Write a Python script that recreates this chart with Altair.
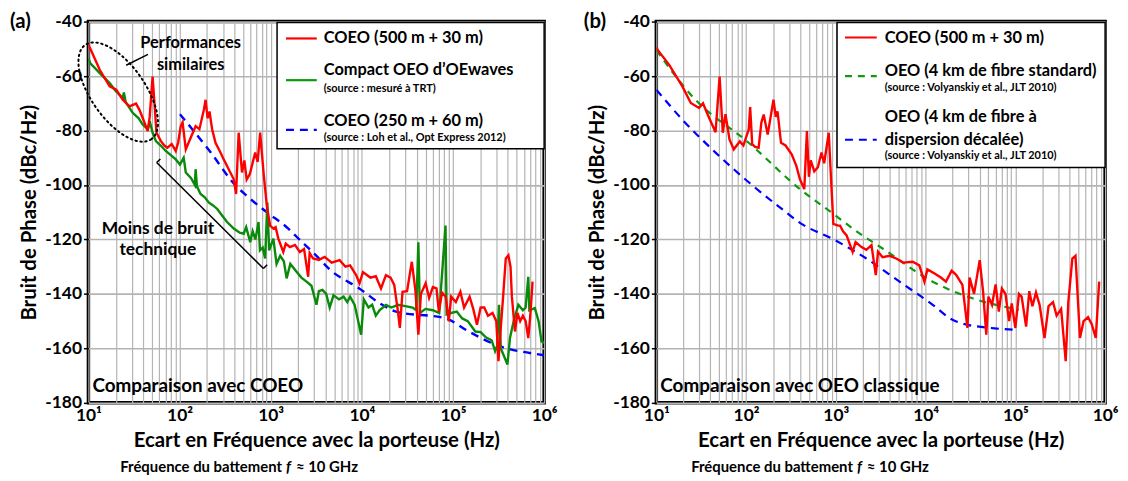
import math
import altair as alt
import pandas as pd

FONT = "Lato"
GRID = "#b4b4b4"

# ---------------- data (frequency Hz, phase noise dBc/Hz) ----------------
a_red = [(10, -48.5), (10.5, -50), (13.3, -57.7), (17.1, -63.8), (20.2, -65), (23.8, -68.7), (28.2, -71.1),
         (33.3, -70.1), (36.4, -72.5), (39.4, -75.4), (44.7, -80.2), (47.0, -75), (50.6, -60.2), (53.3, -71),
         (55.8, -80.8), (62.4, -83.9), (68.1, -85.5), (73.6, -86.3), (82.0, -85), (90.8, -87.5), (96.4, -84.5),
         (103, -78.4), (108, -77), (117, -86.9), (131, -83), (150, -78.4), (165, -79.5), (185, -72.3),
         (193, -68.7), (203, -75.5), (213, -73), (228, -79.6), (248, -84.5), (281, -88.1), (305, -90.6),
         (346, -94.2), (393, -97.9), (417, -103.3), (445, -80.8), (484, -95.4), (514, -91), (545, -98),
         (590, -96), (676, -88.1), (719, -91.5), (766, -80.8), (834, -95.4), (906, -107.6), (985, -114.9),
         (1069, -116), (1132, -115.5), (1213, -119.7), (1374, -124.6), (1462, -121.5), (1626, -122.8),
         (1845, -122), (2089, -124.6), (2323, -123.5), (2576, -133.7), (2673, -125), (2917, -127),
         (3373, -127.5), (3908, -126.4), (4667, -128.5), (5702, -127.6), (6607, -130), (7430, -129.5),
         (8650, -133.1), (9419, -136.1), (10280, -132), (12390, -134), (14220, -133.5), (16220, -138),
         (18370, -133.1), (20650, -134), (22650, -136.7), (24600, -145.2), (26120, -152.5), (27930, -139.2),
         (31330, -139), (35320, -128.2), (38640, -138.5), (41690, -155), (44460, -140), (50120, -136.1),
         (54700, -141.5), (60120, -137.5), (65920, -138), (69980, -146.5), (75860, -139.5), (83180, -141),
         (89950, -150.1), (95500, -141), (107400, -143), (120500, -139.2), (132400, -145), (152100, -141),
         (166700, -145.5), (183200, -151.3), (200900, -145), (220300, -145), (242100, -148), (271600, -147),
         (298500, -150), (315500, -164.7), (335000, -152), (354800, -141), (379300, -127), (405500, -125.8),
         (427600, -130), (442600, -141), (478600, -153.8), (509300, -147), (545800, -150), (584800, -148),
         (626600, -150), (669900, -156.2), (704700, -148), (746400, -135.5)]

a_green = [(10, -53.5), (10.5, -55.3), (13.4, -59), (17.1, -62.6), (19.9, -65.5), (23.8, -68.1), (24.5, -66),
           (25.6, -69.5), (30.6, -73.5), (35.6, -75.5), (39.4, -77.8), (44.9, -79.5), (47.0, -76.5),
           (50.6, -80.8), (55.0, -83.9), (62.1, -85.5), (70.6, -87.5), (80.2, -89), (90.8, -90.6), (101, -92.5),
           (111, -90), (117, -95.4), (134, -97.5), (147, -100), (150, -94.2), (155, -100.5), (170, -103.3),
           (189, -104.5), (209, -106.4), (233, -107.5), (259, -108.8), (293, -111.2), (330, -113.5),
           (393, -116), (457, -117.5), (505, -117.9), (538, -115.5), (596, -121), (634, -117), (679, -120),
           (735, -113.6), (762, -124), (817, -123), (869, -127), (918, -106.4), (962, -124), (1069, -119.7),
           (1159, -129), (1271, -126), (1393, -128), (1496, -134.3), (1641, -129), (1923, -131.9),
           (2168, -134), (2472, -135.5), (2799, -137), (3177, -144), (3373, -139), (3698, -138.5),
           (4064, -140), (4436, -145), (4887, -140.5), (5623, -142), (6310, -141), (6918, -143), (7430, -141),
           (8337, -144), (9817, -155), (10520, -142), (11830, -145), (12970, -144), (14220, -148),
           (15630, -146), (18370, -144), (21130, -145), (24830, -144), (29920, -144.5), (36060, -145),
           (39540, -146), (41690, -121), (43350, -147), (49890, -145.5), (60120, -146), (70630, -147),
           (82790, -114.9), (85110, -147.5), (95500, -147), (109900, -146.5), (126200, -149), (145200, -150),
           (175800, -153.8), (200900, -154), (231200, -156), (265500, -157), (289700, -161), (305500, -159),
           (319900, -144), (335000, -160), (395400, -165.9), (422700, -156), (463400, -150), (521200, -144),
           (584800, -146), (626600, -145), (669900, -133.7), (688700, -146), (790700, -145.2), (869000, -150),
           (935400, -157.4), (1000000, -158)]

a_blue = [(101, -74), (219, -88), (407, -100), (548, -104), (906, -110), (1560, -116), (1923, -119),
          (3177, -126), (4436, -131), (9376, -138), (16750, -144), (23710, -146.5), (83180, -149),
          (148600, -153.8), (291100, -158.6), (869000, -162.2), (1000000, -162.5)]

b_red = [(10, -49.5), (10.4, -50.5), (13.9, -55.9), (19.5, -63.8), (24.2, -69.9), (29.9, -71.7), (33.1, -70),
         (37.2, -74), (45.7, -80.6), (50.7, -60.2), (55.0, -80.8), (58.9, -74), (65.3, -83.3), (72.9, -86.9),
         (85.1, -84), (93.3, -85.5), (107, -79.6), (111, -71.4), (117, -85), (126, -86), (138, -86.3),
         (148, -77), (157, -74.1), (174, -81.5), (202, -68.7), (214, -75), (224, -73), (245, -84.5),
         (275, -85.5), (322, -88.7), (363, -93), (398, -97.9), (445, -101.5), (476, -80.2), (501, -97),
         (525, -91), (575, -95), (631, -93.5), (692, -88.1), (741, -92), (834, -80.8), (891, -100),
         (938, -114.3), (1057, -114.9), (1114, -114.9), (1202, -117), (1318, -118.5), (1538, -124.6),
         (1660, -121), (1932, -122.8), (2188, -123.8), (2495, -122.1), (2786, -133.1), (2951, -124.5),
         (3311, -126.5), (3981, -126), (4710, -127), (5623, -128.5), (7194, -128.2), (8511, -129.5),
         (9705, -135.5), (10470, -131), (12590, -132.5), (14790, -134), (16870, -135.5), (19500, -131.5),
         (21880, -133), (25700, -136.7), (29240, -152.5), (30900, -134), (34670, -140), (40090, -127.6),
         (43650, -139), (47430, -155), (50120, -141), (54950, -144), (60260, -136.5), (65460, -146.5),
         (70790, -138), (77620, -140), (85110, -150), (91200, -143.5), (100000, -152.5), (109600, -140),
         (117500, -141), (131800, -152), (142900, -139), (154900, -144.5), (169800, -139.5), (186200, -144),
         (211300, -156.2), (234400, -144.5), (263000, -143), (288400, -148), (323600, -145.5),
         (363900, -164.7), (389000, -143), (431500, -127), (467700, -126), (524800, -156.2), (575400, -150),
         (645700, -148.5), (707900, -151), (787000, -156.2), (859000, -135.5)]

b_green = [(10, -50.5), (25.2, -67.5), (107, -84.5), (415, -102), (938, -110.6), (1618, -116.5),
           (3350, -123.4), (11970, -135.5), (33190, -141.6), (109100, -145.8)]

b_blue = [(10, -65), (19.5, -76), (45.7, -88.1), (107, -99), (250, -108.8), (402, -114), (933, -119.9),
          (2188, -127), (5129, -135.5), (12020, -144), (19950, -149.5), (28050, -151.2), (46770, -152.3),
          (100000, -153.2)]

x_tick_powers = [10, 100, 1000, 10000, 100000, 1000000]
x_tick_labels = ["10¹", "10²", "10³", "10⁴", "10⁵", "10⁶"]
y_ticks = [-180, -160, -140, -120, -100, -80, -60, -40]

x_grid_values = [m * p for p in x_tick_powers[:-1] for m in range(1, 10)] + [1000000]
label_expr = " : ".join(
    f"datum.value == {v} ? '{t}'" for v, t in zip(x_tick_powers, x_tick_labels)
) + " : ''"

H = 384
ONE = alt.Data(values=[{"k": 0}])


def axes_x():
    return alt.X(
        "f:Q",
        scale=alt.Scale(type="log", domain=[10, 1000000], nice=False),
        axis=alt.Axis(
            values=x_grid_values, labelExpr=label_expr, grid=True, gridColor=GRID, gridWidth=1.2,
            ticks=False, domain=False, labelOverlap=False, labelFlush=False, labelBound=False,
            labelFont=FONT, labelFontSize=17.5, labelFontWeight="bold", labelColor="black", labelPadding=4,
            title="Ecart en Fréquence avec la porteuse (Hz)", titleFont=FONT, titleFontSize=20.5,
            titleFontWeight="bold", titleColor="black", titlePadding=6,
        ),
    )


def axes_y():
    return alt.Y(
        "db:Q",
        scale=alt.Scale(domain=[-180, -40], nice=False),
        axis=alt.Axis(
            values=y_ticks, labelExpr="toString(datum.value)", grid=True, gridColor=GRID, gridWidth=1.6,
            tickSize=5, tickColor="black", tickWidth=1.5, domain=False,
            labelFont=FONT, labelFontSize=17.5, labelFontWeight="bold", labelColor="black", labelPadding=2,
            title="Bruit de Phase (dBc/Hz)", titleFont=FONT, titleFontSize=20.5, titleFontWeight="bold",
            titleColor="black", titlePadding=5,
        ),
    )


def line(data, color, dash=None, width=2.4, interp="linear"):
    df = pd.DataFrame(data, columns=["f", "db"])
    kw = dict(color=color, strokeWidth=width, clip=True, interpolate=interp)
    if dash:
        kw["strokeDash"] = dash
    return alt.Chart(df).mark_line(**kw).encode(x=axes_x(), y=axes_y())


def txt(s, x, y, size, align="left", style="normal"):
    return alt.Chart(ONE).mark_text(
        text=s, align=align, baseline="middle", font=FONT, fontSize=size, fontWeight="bold",
        fontStyle=style, color="black",
    ).encode(x=alt.value(x), y=alt.value(y))


def seg(x1, y1, x2, y2, color="black", width=1.5, dash=None):
    kw = dict(color=color, strokeWidth=width)
    if dash:
        kw["strokeDash"] = dash
    return alt.Chart(ONE).mark_rule(**kw).encode(
        x=alt.value(x1), y=alt.value(y1), x2=alt.value(x2), y2=alt.value(y2)
    )


def box(x1, y1, x2, y2):
    return alt.Chart(ONE).mark_rect(fill="white", stroke="black", strokeWidth=1.5).encode(
        x=alt.value(x1), y=alt.value(y1), x2=alt.value(x2), y2=alt.value(y2)
    )


def subtitle(x0):
    return [
        txt("Fréquence du battement", x0 + 145, 449, 15, align="right"),
        txt("f", x0 + 149, 449, 15, style="italic"),
        txt("≈ 10 GHz", x0 + 159, 449, 15),
    ]


# ellipse outline (annotation shape)
th = math.radians(55)
pts = []
for i in range(72):
    t = 2 * math.pi * i / 72
    ex, ey = math.cos(t), 0.47 * math.sin(t)
    pts.append(f"{ex * math.cos(th) - ey * math.sin(th):.4f},{ex * math.sin(th) + ey * math.cos(th):.4f}")
ellipse_path = "M" + " L".join(pts) + " Z"
ellipse = alt.Chart(ONE).mark_point(
    shape=ellipse_path, size=(2 * 58) ** 2, filled=False, color="black", strokeWidth=2,
    strokeDash=[1.5, 3.5], strokeCap="round", opacity=1,
).encode(x=alt.value(30), y=alt.value(71))

WA = 459
panel_a = alt.layer(
    line(a_blue, "#0000ff", dash=[8, 6], width=2.4, interp="monotone"),
    line(a_green, "#0a8a0a", width=2.4),
    line(a_red, "#ff0000", width=2.4),
    ellipse,
    seg(38, 44, 60, 33),
    txt("Performances", 103, 22, 16.5, align="center"),
    txt("similaires", 103, 44, 16.5, align="center"),
    seg(68.7, 142, 176.3, 248.7),
    seg(68.7, 142, 72.5, 138.3),
    seg(176.3, 248.7, 180, 245),
    txt("Moins de bruit", 70, 209, 17.5, align="center"),
    txt("technique", 70, 230, 17.5, align="center"),
    txt("Comparaison avec COEO", 4, 367, 19),
    box(190, 1, WA, 128),
    seg(199, 17, 230, 17, color="#ff0000", width=2.2),
    txt("COEO (500 m + 30 m)", 237, 17, 16.5),
    seg(199, 59, 230, 59, color="#0a9a0a", width=2.2),
    txt("Compact OEO d’OEwaves", 237, 49, 16.5),
    txt("(source : mesuré à TRT)", 237, 68, 11),
    seg(199, 109, 230, 109, color="#0000ff", width=2.2, dash=[8, 6]),
    txt("COEO (250 m + 60 m)", 237, 100, 16.5),
    txt("(source : Loh et al., Opt Express 2012)", 237, 117.5, 11),
    txt("(a)", -79, 0, 20.5),
    *subtitle(50),
).properties(width=WA, height=H)

WB = 452
panel_b = alt.layer(
    line(b_green, "#119911", dash=[7, 6], width=2.2, interp="monotone"),
    line(b_blue, "#0000ff", dash=[8, 6], width=2.2, interp="monotone"),
    line(b_red, "#ff0000", width=2.4),
    txt("Comparaison avec OEO classique", 4, 367, 19),
    box(182, 1, WB, 147),
    seg(190, 16, 222, 16, color="#ff0000", width=2.2),
    txt("COEO (500 m + 30 m)", 230, 17, 16.5),
    seg(190, 55, 222, 55, color="#119911", width=2.2, dash=[7, 6]),
    txt("OEO (4 km de fibre standard)", 230, 50, 16.5),
    txt("(source : Volyanskiy et al., JLT 2010)", 230, 67, 11),
    txt("OEO (4 km de fibre à", 230, 96, 16.5),
    seg(190, 119, 222, 119, color="#0000ff", width=2.2, dash=[8, 6]),
    txt("dispersion décalée)", 230, 119, 16.5),
    txt("(source : Volyanskiy et al., JLT 2010)", 230, 135, 11),
    txt("(b)", -73, 0, 20.5),
    *subtitle(53),
).properties(width=WB, height=H)

chart = (
    alt.hconcat(panel_a, panel_b, spacing=23)
    .properties(padding={"left": 0, "top": 0, "right": 0, "bottom": 0}, background="white")
    .configure_view(stroke="black", strokeWidth=3.5)
)

chart.save("out.html", embed_options={"renderer": "svg", "actions": False})
